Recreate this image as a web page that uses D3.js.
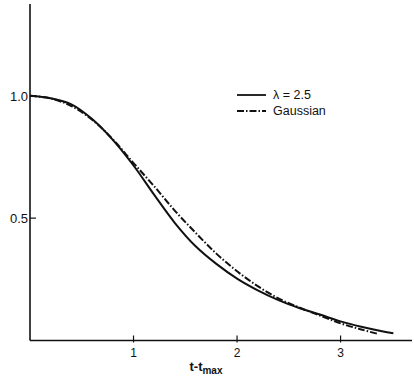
<!DOCTYPE html>
<html>
<head>
<meta charset="utf-8">
<script src="https://cdn.jsdelivr.net/npm/d3@7"></script>
<style>
body { margin: 0; background: #fff; }
text { font-family: "Liberation Sans", Arial, sans-serif; fill: #111; }
</style>
</head>
<body>
<div id="chart"></div>
<script>
var margin = {top: 4, right: 2, bottom: 42, left: 30},
    width = 414 - margin.left - margin.right,
    height = 383 - margin.top - margin.bottom

// values
var lambdaT = [0, 0.2, 0.4, 0.6, 0.8, 1.0, 1.2, 1.4, 1.6, 1.8, 2.0, 2.2, 2.4, 2.6, 2.8, 3.0, 3.2, 3.4, 3.51];
var lambdaY = [1.0, 0.99, 0.965, 0.905, 0.82, 0.715, 0.595, 0.48, 0.385, 0.313, 0.253, 0.205, 0.165, 0.133, 0.106, 0.078, 0.056, 0.038, 0.03];

var gaussT = [0, 0.2, 0.4, 0.6, 0.8, 1.0, 1.2, 1.4, 1.6, 1.8, 2.0, 2.2, 2.4, 2.6, 2.8, 3.0, 3.2, 3.37];
var gaussY = [1.0, 0.989, 0.958, 0.902, 0.822, 0.725, 0.63, 0.53, 0.44, 0.355, 0.283, 0.222, 0.172, 0.135, 0.102, 0.07, 0.045, 0.026];

var xTicks = [1, 2, 3];
var yTicks = [0.5, 1.0];
var legendItems = [{label: "λ = 2.5", dash: null}, {label: "Gaussian", dash: "7,2,1.5,2"}];

var svg = d3.select("#chart")
    .append("svg")
        .attr("width", width + margin.left + margin.right)
        .attr("height", height + margin.top + margin.bottom)
    .append("g")
        .attr("transform", "translate(" + margin.left + "," + margin.top + ")");

var x = d3.scaleLinear().domain([0, 3.69]).range([0, width]);
var y = d3.scaleLinear().domain([0, 1.375]).range([height - 0.5, 0]);

// axes
svg.append("line")
    .attr("x1", 0).attr("x2", 0)
    .attr("y1", 0).attr("y2", y(0))
    .attr("stroke", "#111").attr("stroke-width", 1.6);
svg.append("line")
    .attr("x1", 0).attr("x2", width)
    .attr("y1", y(0)).attr("y2", y(0))
    .attr("stroke", "#111").attr("stroke-width", 1.6);

svg.selectAll(".xtick")
    .data(xTicks)
    .enter()
    .append("line")
        .attr("x1", function(d) { return x(d); })
        .attr("x2", function(d) { return x(d); })
        .attr("y1", y(0) - 5)
        .attr("y2", y(0) + 2)
        .attr("stroke", "#111").attr("stroke-width", 1.2);

svg.selectAll(".xlabel")
    .data(xTicks)
    .enter()
    .append("text")
        .attr("x", function(d) { return x(d); })
        .attr("y", y(0) + 16)
        .attr("text-anchor", "middle")
        .style("font-size", "12px")
        .text(function(d) { return d; });

svg.selectAll(".ytick")
    .data(yTicks)
    .enter()
    .append("line")
        .attr("x1", 0)
        .attr("x2", 6)
        .attr("y1", function(d) { return y(d); })
        .attr("y2", function(d) { return y(d); })
        .attr("stroke", "#111").attr("stroke-width", 1.2);

svg.selectAll(".ylabel")
    .data(yTicks)
    .enter()
    .append("text")
        .attr("x", -2)
        .attr("y", function(d) { return y(d) + 5; })
        .attr("text-anchor", "end")
        .style("font-size", "13px")
        .text(function(d) { return d.toFixed(1); });

// axis title t - t_max
var title = svg.append("text")
    .attr("x", x(1.7))
    .attr("y", y(0) + 30)
    .attr("text-anchor", "middle")
    .style("font-size", "13px")
    .style("font-weight", "bold");
title.append("tspan").text("t-t");
title.append("tspan").attr("dy", 3).style("font-size", "10px").text("max");

// curves
var line = d3.line()
    .x(function(d) { return x(d[0]); })
    .y(function(d) { return y(d[1]); })
    .curve(d3.curveCatmullRom);

svg.append("path")
    .datum(d3.zip(gaussT, gaussY))
    .attr("d", line)
    .attr("fill", "none")
    .attr("stroke", "#111")
    .attr("stroke-width", 2)
    .attr("stroke-dasharray", "7,2,1.5,2");

svg.append("path")
    .datum(d3.zip(lambdaT, lambdaY))
    .attr("d", line)
    .attr("fill", "none")
    .attr("stroke", "#111")
    .attr("stroke-width", 2);

// legend
var legend = svg.selectAll(".legend")
    .data(legendItems)
    .enter()
    .append("g")
        .attr("transform", function(d, i) { return "translate(207," + (91 + i * 16) + ")"; });

legend.append("line")
    .attr("x1", 0).attr("x2", 29)
    .attr("y1", 0).attr("y2", 0)
    .attr("stroke", "#111")
    .attr("stroke-width", 1.8)
    .attr("stroke-dasharray", function(d) { return d.dash; });

legend.append("text")
    .attr("x", 36)
    .attr("y", 4)
    .style("font-size", "12.5px")
    .text(function(d) { return d.label; });
</script>
</body>
</html>
